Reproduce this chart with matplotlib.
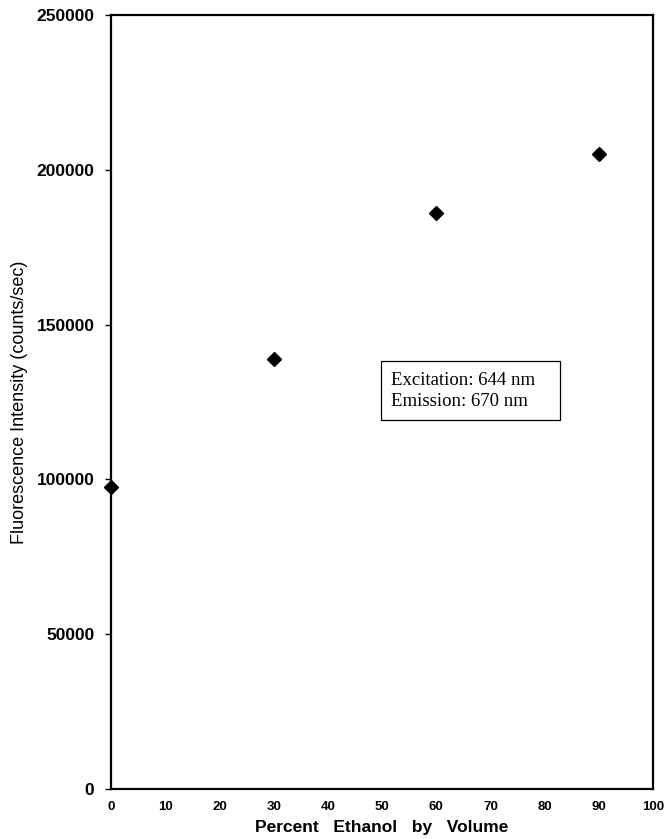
import matplotlib

matplotlib.use("Agg")
import matplotlib.pyplot as plt

# data
ethanol_pct = [0, 30, 60, 90]
intensity = [97500, 139000, 186000, 205000]
x_ticks = list(range(0, 101, 10))
y_ticks = [0, 50000, 100000, 150000, 200000, 250000]

fig = plt.figure(figsize=(6.69, 8.39), dpi=100)
ax = fig.add_axes([0.166, 0.0596, 0.810, 0.9226])

ax.plot(ethanol_pct, intensity, linestyle="None", marker="D", markersize=7,
        color="black", clip_on=False, zorder=3)

ax.set_xlim(0, 100)
ax.set_ylim(0, 250000)
ax.set_xticks(x_ticks)
ax.set_yticks(y_ticks)
ax.tick_params(axis="x", length=0, pad=9)
ax.tick_params(axis="y", direction="out", length=4, width=1, pad=8)
for label in ax.get_xticklabels():
    label.set_fontfamily("Liberation Sans")
    label.set_fontweight("bold")
    label.set_fontsize(9.5)
for label in ax.get_yticklabels():
    label.set_fontfamily("Liberation Sans")
    label.set_fontweight("bold")
    label.set_fontsize(12.5)

for spine in ax.spines.values():
    spine.set_linewidth(1.6)

ax.set_xlabel("Percent   Ethanol   by   Volume", fontfamily="Liberation Sans",
              fontweight="bold", fontsize=12.5, labelpad=5)
ax.set_ylabel("Fluorescence Intensity (counts/sec)", fontfamily="Liberation Sans",
              fontsize=13, labelpad=6)

ax.text(0.517, 0.539, "Excitation: 644 nm   \nEmission: 670 nm", transform=ax.transAxes,
        fontfamily="Liberation Serif", fontsize=13.5, ha="left", va="top", linespacing=1.3,
        bbox=dict(boxstyle="square,pad=0.55", facecolor="white", edgecolor="black", linewidth=0.9))

fig.savefig("out.png", dpi=100)
